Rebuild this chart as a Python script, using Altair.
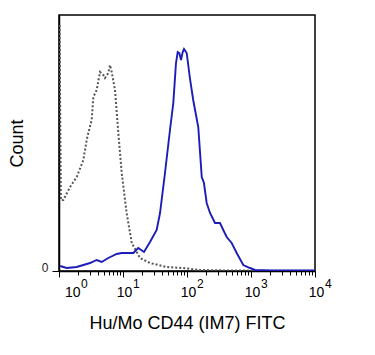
import altair as alt
import pandas as pd

# Isotype control (dotted gray)
iso_x = [1.02, 1.07, 1.17, 1.49, 1.89, 2.40, 2.71, 2.87, 3.24, 3.44, 3.88, 4.37, 4.92, 5.23,
         5.89, 6.26, 6.66, 7.50, 8.45, 9.55, 11.4, 13.7, 18.4, 26.4, 48.2, 86.6, 160, 470,
         1380, 4070, 10000]
iso_y = [246, 71, 71, 84, 94, 111, 131, 138, 151, 174, 181, 199, 196, 193,
         198, 206, 199, 181, 138, 98, 58, 28, 13, 8, 4, 3, 1, 0.5,
         0.3, 0.2, 0.2]

# CD44 stained (solid blue)
cd_x = [1.04, 1.32, 1.89, 2.40, 3.05, 3.88, 4.65, 5.89, 7.97, 9.55, 11.4, 14.5, 17.3, 21.3,
        26.4, 33.6, 37.9, 45.3, 54.2, 61.1, 67.3, 71.6, 75.9, 80.6, 85.7, 89.8, 98.9, 111,
        125, 150, 170, 184, 203, 229, 274, 328, 369, 417, 499, 598, 758, 964, 1156, 1982, 10000]
cd_y = [5, 3, 4, 6, 8, 11, 9, 13, 17, 18, 18, 18, 23, 19,
        29, 41, 58, 98, 141, 168, 208, 219, 218, 211, 219, 222, 218, 193,
        171, 144, 94, 88, 68, 58, 48, 48, 41, 34, 28, 18, 6, 3, 1, 0.5, 0.5]

major_ticks = [1, 10, 100, 1000, 10000]
minor_ticks = [2, 3, 4, 5, 6, 7, 8, 9,
               20, 30, 40, 50, 60, 70, 80, 90,
               200, 300, 400, 500, 600, 700, 800, 900,
               2000, 3000, 4000, 5000, 6000, 7000, 8000, 9000]
tick_base = ["10", "10", "10", "10", "10"]
tick_exp = ["0", "1", "2", "3", "4"]

df_iso = pd.DataFrame({"x": iso_x, "y": iso_y})
df_cd = pd.DataFrame({"x": cd_x, "y": cd_y})
df_lab = pd.DataFrame({"v": major_ticks, "b": tick_base, "e": tick_exp})

FONT = "Liberation Sans"
xscale = alt.Scale(type="log", domain=[1, 10000], nice=False)
yscale = alt.Scale(domain=[0, 256], nice=False, zero=True)

major_test = " || ".join(f"datum.value == {v}" for v in major_ticks)

xaxis = alt.Axis(
    values=major_ticks + minor_ticks,
    labels=False,
    grid=False,
    tickColor="black",
    tickWidth=1,
    tickSize={"condition": {"test": major_test, "value": 6}, "value": 4},
    domainColor="black",
    domainWidth=1.5,
    title="Hu/Mo CD44 (IM7) FITC",
    titleFont=FONT,
    titleFontSize=18,
    titleFontWeight="normal",
    titleColor="black",
    titleX=128,
    titleY=57,
    titleAlign="center",
    titleBaseline="alphabetic",
)
yaxis = alt.Axis(
    values=[0],
    grid=False,
    tickColor="black",
    tickWidth=1,
    tickSize=7,
    labelFont=FONT,
    labelFontSize=12,
    labelColor="#222222",
    labelBaseline="alphabetic",
    labelPadding=4,
    domainColor="black",
    domainWidth=1.5,
    title="Count",
    titleFont=FONT,
    titleFontSize=18,
    titleFontWeight="normal",
    titleColor="black",
    titleX=-42,
    titleY=128,
    titleAlign="center",
    titleBaseline="middle",
)

iso = alt.Chart(df_iso).mark_line(
    color="#555555", strokeDash=[2, 2], strokeWidth=2, clip=True
).encode(
    x=alt.X("x:Q", scale=xscale, axis=xaxis),
    y=alt.Y("y:Q", scale=yscale, axis=yaxis),
    order=alt.Order("x:Q"),
)

cd = alt.Chart(df_cd).mark_line(
    color="#1c1cb8", strokeWidth=1.9, clip=True
).encode(
    x=alt.X("x:Q", scale=xscale),
    y=alt.Y("y:Q", scale=yscale),
    order=alt.Order("x:Q"),
)

first = df_lab.iloc[:1]
rest = df_lab.iloc[1:]

lab_first = alt.Chart(first).mark_text(
    font=FONT, fontSize=14, align="left", baseline="alphabetic", dx=6, color="black"
).encode(x=alt.X("v:Q", scale=xscale), y=alt.value(282), text="b:N")
exp_first = alt.Chart(first).mark_text(
    font=FONT, fontSize=12, align="left", baseline="alphabetic", dx=22, color="black"
).encode(x=alt.X("v:Q", scale=xscale), y=alt.value(273), text="e:N")
lab_rest = alt.Chart(rest).mark_text(
    font=FONT, fontSize=14, align="center", baseline="alphabetic", dx=1.5, color="black"
).encode(x=alt.X("v:Q", scale=xscale), y=alt.value(282), text="b:N")
exp_rest = alt.Chart(rest).mark_text(
    font=FONT, fontSize=12, align="left", baseline="alphabetic", dx=10, color="black"
).encode(x=alt.X("v:Q", scale=xscale), y=alt.value(273), text="e:N")

chart = alt.layer(iso, cd, lab_first, exp_first, lab_rest, exp_rest).properties(
    width=256,
    height=256,
    autosize=alt.AutoSizeParams(type="none"),
    padding={"left": 51, "top": 7, "right": 40, "bottom": 70},
    background="white",
).configure_view(
    stroke="black", strokeWidth=1.5
)

chart.save("out.html", embed_options={"renderer": "svg", "actions": False})
